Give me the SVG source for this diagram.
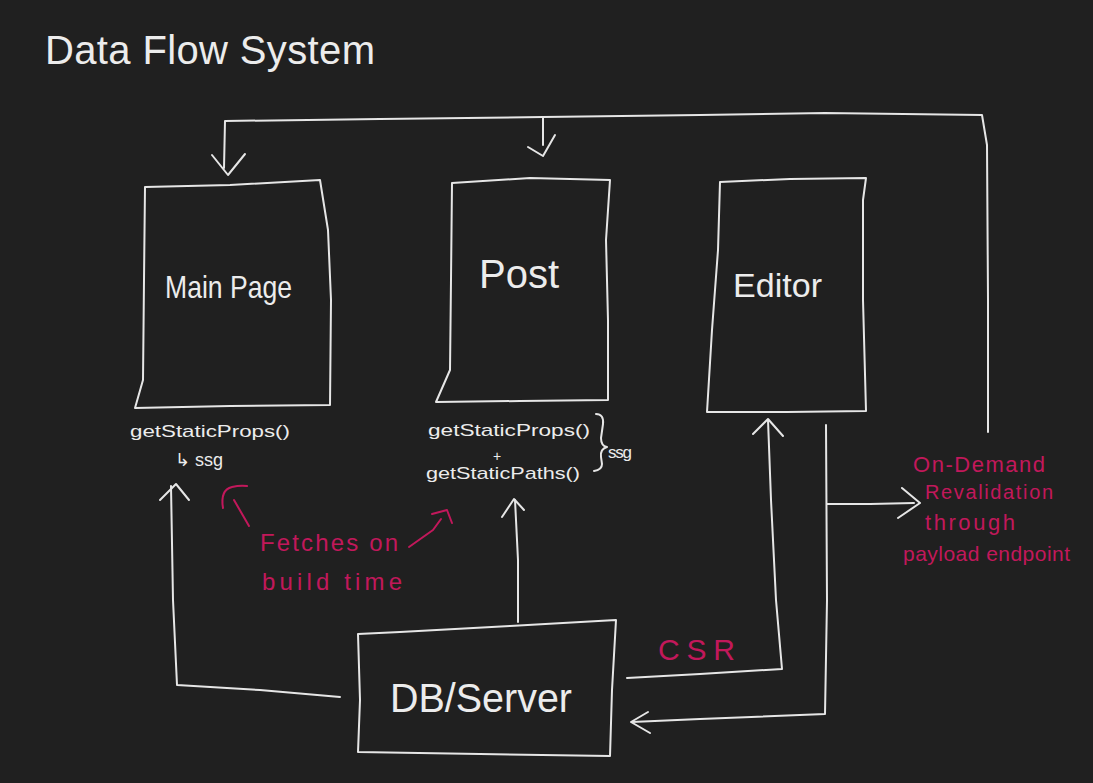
<svg xmlns="http://www.w3.org/2000/svg" width="1093" height="783" viewBox="0 0 1093 783">
<style>
.ln{fill:none;stroke:#e6e6e6;stroke-width:2;stroke-linecap:round;stroke-linejoin:round}
.pk{fill:none;stroke:#c2185b;stroke-width:2;stroke-linecap:round;stroke-linejoin:round}
.t{fill:#ececec;font-family:"Liberation Sans",Arial,sans-serif}
.p{fill:#c2185b;font-family:"Liberation Sans",Arial,sans-serif}
</style>
<rect width="1093" height="783" fill="#202020"/>
<g id="title"><text class="t" x="45" y="64" font-size="40" textLength="330" lengthAdjust="spacing">Data Flow System</text></g>
<g id="main-page">
<path class="ln" d="M145,187 L230,185 L320,180 L328,230 L331,300 L330,405 L230,406 L135,408 L143,380 L144,280 Z"/>
<text class="t" x="165" y="298" font-size="32" textLength="127" lengthAdjust="spacingAndGlyphs">Main Page</text>
<text class="t" x="130" y="437" font-size="17" textLength="160" lengthAdjust="spacingAndGlyphs">getStaticProps()</text>
<text class="t" x="175" y="466" font-size="18">↳ ssg</text>
</g>
<g id="post">
<path class="ln" d="M452,183 L530,178 L610,180 L606,240 L608,320 L608,400 L520,401 L436,402 L450,370 L451,280 Z"/>
<text class="t" x="479" y="288" font-size="40">Post</text>
<text class="t" x="428" y="436" font-size="17" textLength="162" lengthAdjust="spacingAndGlyphs">getStaticProps()</text>
<text class="t" x="493" y="461" font-size="14">+</text>
<text class="t" x="426" y="479" font-size="17" textLength="154" lengthAdjust="spacingAndGlyphs">getStaticPaths()</text>
<path class="ln" d="M596,414 Q604,414 603,424 L601,438 Q601,446 607,447 Q600,449 601,457 L602,464 Q602,470 594,471"/>
<text class="t" x="608" y="458" font-size="17" textLength="24" lengthAdjust="spacing">ssg</text>
</g>
<g id="editor">
<path class="ln" d="M720,182 L790,179 L866,178 L863,200 L863,300 L866,411 L787,412 L707,412 L712,330 L718,250 Z"/>
<text class="t" x="733" y="297" font-size="33" textLength="89" lengthAdjust="spacingAndGlyphs">Editor</text>
</g>
<g id="db-server">
<path class="ln" d="M358,634 L400,632 L510,626 L616,620 L612,690 L610,756 L480,754 L358,752 L360,700 Z"/>
<text class="t" x="390" y="712" font-size="40" textLength="182" lengthAdjust="spacingAndGlyphs">DB/Server</text>
</g>
<g id="connectors">
<path class="ln" d="M224,168 L225,121 L380,119 L543,117 L700,115 L825,113 L982,115 L987,145 L988,300 L988,432"/>
<path class="ln" d="M212,155 L228,175 L245,154"/>
<path class="ln" d="M543,118 L543,145"/>
<path class="ln" d="M528,147 L543,156 L555,135"/>
<path class="ln" d="M340,697 L260,690 L177,685 L173,600 L171,486"/>
<path class="ln" d="M160,500 L176,484 L189,500"/>
<path class="ln" d="M518,622 L518,560 L515,500"/>
<path class="ln" d="M502,517 L514,499 L524,510"/>
<path class="ln" d="M627,678 L700,674 L782,669 L776,600 L771,500 L768,420"/>
<path class="ln" d="M753,434 L768,419 L783,436"/>
<path class="ln" d="M826,425 L827,600 L825,714 L700,719 L632,722"/>
<path class="ln" d="M648,712 L631,722 L650,733"/>
<path class="ln" d="M827,504 L870,504 L914,503"/>
<path class="ln" d="M902,488 L920,503 L898,518"/>
<path class="pk" d="M249,526 L234,500"/>
<path class="pk" d="M223,508 Q220,490 232,487 Q240,485 247,486"/>
<path class="pk" d="M409,547 L433,530 L441,519"/>
<path class="pk" d="M432,514 L447,510 L452,523"/>
</g>
<g id="labels">
<text class="p" x="260" y="551" font-size="24" textLength="138" lengthAdjust="spacing">Fetches on</text>
<text class="p" x="262" y="590" font-size="24" textLength="140" lengthAdjust="spacing">build time</text>
<text class="p" x="658" y="660" font-size="30" textLength="77" lengthAdjust="spacing">CSR</text>
<text class="p" x="913" y="472" font-size="22" textLength="132" lengthAdjust="spacing">On-Demand</text>
<text class="p" x="925" y="499" font-size="20" textLength="128" lengthAdjust="spacing">Revalidation</text>
<text class="p" x="925" y="530" font-size="22" textLength="90" lengthAdjust="spacing">through</text>
<text class="p" x="903" y="561" font-size="21" textLength="167" lengthAdjust="spacing">payload endpoint</text>
</g>
</svg>
